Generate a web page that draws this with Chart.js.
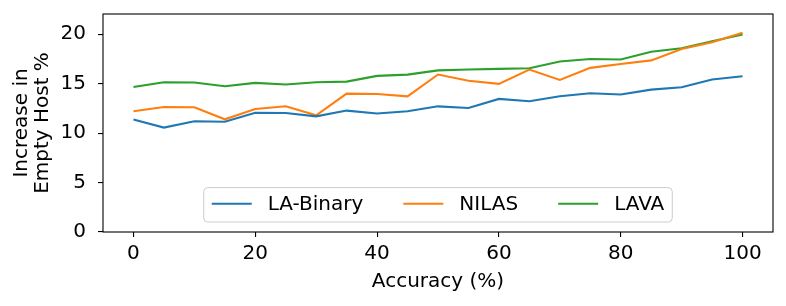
<!DOCTYPE html>
<html>
<head>
<meta charset="utf-8">
<script src="https://cdn.jsdelivr.net/npm/chart.js@4"></script>
<style>
  html, body { margin: 0; padding: 0; background: #fff; }
  #wrap { width: 786px; height: 306px; }
</style>
</head>
<body>
<div id="wrap"><canvas id="chart" width="786" height="306"></canvas></div>
<script>
// ==================== DATA ====================
const accuracy = [0, 5, 10, 15, 20, 25, 30, 35, 40, 45, 50, 55, 60, 65, 70, 75, 80, 85, 90, 95, 100];
const laBinary = [11.37, 10.56, 11.20, 11.16, 12.07, 12.04, 11.70, 12.28, 11.98, 12.21, 12.71, 12.55, 13.46, 13.22, 13.73, 14.04, 13.90, 14.40, 14.64, 15.42, 15.75];
const nilas    = [12.21, 12.65, 12.61, 11.40, 12.44, 12.72, 11.80, 14.00, 13.96, 13.72, 15.93, 15.30, 14.98, 16.43, 15.38, 16.60, 17.00, 17.36, 18.50, 19.20, 20.16];
const lava     = [14.67, 15.15, 15.13, 14.74, 15.08, 14.92, 15.15, 15.21, 15.79, 15.92, 16.35, 16.43, 16.50, 16.57, 17.25, 17.50, 17.44, 18.24, 18.58, 19.30, 19.98];
const seriesNames = ['LA-Binary', 'NILAS', 'LAVA'];
const xTicks = [0, 20, 40, 60, 80, 100];
const yTicks = [0, 5, 10, 15, 20];

// ==================== STYLE ====================
const FONT = 'DejaVu Sans';
const FS = 20;
const COLORS = ['#1f77b4', '#ff7f0e', '#2ca02c'];

const toPoints = (ys) => ys.map((y, i) => ({ x: accuracy[i], y: y }));

// no label overflow padding, the plot box is fixed by layout padding + afterFit
const noOverflow = (s) => { s.paddingTop = 0; s.paddingBottom = 0; s.paddingLeft = 0; s.paddingRight = 0; };

// box around the plot area
const framePlugin = {
    id: 'frame',
    afterDatasetsDraw(chart) {
        const { ctx, chartArea: a } = chart;
        ctx.save();
        ctx.strokeStyle = '#000';
        ctx.lineWidth = 1.1;
        ctx.strokeRect(a.left, a.top, a.right - a.left, a.bottom - a.top);
        ctx.restore();
    }
};

// matplotlib-style legend, lower center inside the axes
const legendPlugin = {
    id: 'mplLegend',
    afterDraw(chart) {
        const { ctx, chartArea: a } = chart;
        const em = FS;
        const handleLen = 2.0 * em, textPad = 0.8 * em, colSpace = 2.0 * em, pad = 0.4 * em;
        ctx.save();
        ctx.font = FS + 'px "' + FONT + '"';
        const items = chart.data.datasets.map(d => ({ label: d.label, color: d.borderColor, w: ctx.measureText(d.label).width }));
        let inner = 0;
        items.forEach((it, i) => { inner += handleLen + textPad + it.w + (i ? colSpace : 0); });
        const boxW = inner + 2 * pad;
        const boxH = 34.4;
        const boxX = (a.left + a.right) / 2 - boxW / 2;
        const boxY = a.bottom - 0.5 * em - boxH;
        ctx.beginPath();
        ctx.roundRect(boxX, boxY, boxW, boxH, 4);
        ctx.fillStyle = 'rgba(255,255,255,0.8)';
        ctx.fill();
        ctx.strokeStyle = '#cccccc';
        ctx.lineWidth = 1;
        ctx.stroke();
        const cy = boxY + boxH / 2 - 1;
        let x = boxX + pad;
        items.forEach((it) => {
            ctx.beginPath();
            ctx.moveTo(x, cy);
            ctx.lineTo(x + handleLen, cy);
            ctx.strokeStyle = it.color;
            ctx.lineWidth = 2.08;
            ctx.stroke();
            x += handleLen + textPad;
            ctx.fillStyle = '#000';
            ctx.textBaseline = 'middle';
            ctx.textAlign = 'left';
            ctx.fillText(it.label, x, cy + 1);
            x += it.w + colSpace;
        });
        ctx.restore();
    }
};

const tickFont = { family: FONT, size: FS };

new Chart(document.getElementById('chart'), {
    type: 'line',
    data: {
        datasets: [laBinary, nilas, lava].map((ys, i) => ({
            label: seriesNames[i],
            data: toPoints(ys),
            borderColor: COLORS[i],
            backgroundColor: COLORS[i],
            borderWidth: 2.08,
            pointRadius: 0,
            tension: 0,
            fill: false,
        }))
    },
    options: {
        responsive: false,
        devicePixelRatio: 1,
        animation: false,
        layout: { padding: { left: 0, right: 13, top: 14, bottom: 0 } },
        plugins: { legend: { display: false }, tooltip: { enabled: false } },
        scales: {
            x: {
                type: 'linear',
                min: -5,
                max: 105,
                afterBuildTicks: (s) => { s.ticks = xTicks.map(v => ({ value: v })); },
                afterFit: (s) => { s.height = 74; noOverflow(s); },
                grid: { drawOnChartArea: false, drawTicks: true, tickLength: 5, color: '#000', lineWidth: 1.1 },
                border: { display: false },
                ticks: { font: tickFont, color: '#000', padding: 5, maxRotation: 0, autoSkip: false },
                title: { display: true, text: 'Accuracy (%)', font: tickFont, color: '#000', padding: { top: 0, bottom: 12 } }
            },
            y: {
                type: 'linear',
                min: 0,
                max: 22.05,
                afterBuildTicks: (s) => { s.ticks = yTicks.map(v => ({ value: v })); },
                afterFit: (s) => { s.width = 103; noOverflow(s); },
                grid: { drawOnChartArea: false, drawTicks: true, tickLength: 5, color: '#000', lineWidth: 1.1 },
                border: { display: false },
                ticks: { font: tickFont, color: '#000', padding: 12, autoSkip: false },
                title: {
                    display: true,
                    text: ['Increase in', 'Empty Host %'],
                    font: { family: FONT, size: FS, lineHeight: 1.05 },
                    color: '#000',
                    padding: { top: 11, bottom: 0 }
                }
            }
        }
    },
    plugins: [framePlugin, legendPlugin]
});
</script>
</body>
</html>
